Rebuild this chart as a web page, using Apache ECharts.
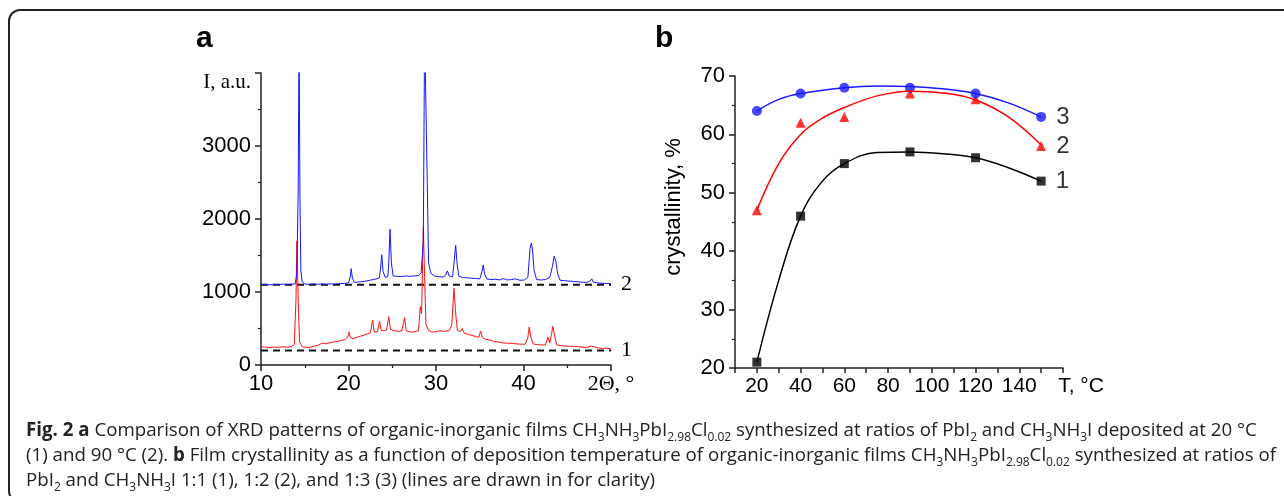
<!DOCTYPE html>
<html>
<head>
<meta charset="utf-8">
<script src="https://cdn.jsdelivr.net/npm/echarts@6/dist/echarts.min.js"></script>
<style>
html, body { margin: 0; padding: 0; background: #fff; }
#main { width: 1284px; height: 496px; }
</style>
</head>
<body>
<div id="main"></div>
<script>
// panel a: XRD patterns, [2theta, I]
var xrd1 = [ // 20 °C, red
	[10, 250], [10.5, 245], [11, 238], [11.5, 246], [12, 240], [12.5, 250], [13, 244], [13.5, 255], [13.8, 280],
	[14.0, 900], [14.1, 1700], [14.25, 900], [14.4, 320], [14.7, 250], [15, 245], [15.5, 240], [16, 255],
	[16.5, 270], [17, 300], [17.5, 290], [18, 310], [18.5, 320], [19, 330], [19.5, 345], [19.9, 380],
	[20.05, 450], [20.2, 380], [20.5, 360], [21, 380], [21.5, 400], [22, 420], [22.5, 440], [22.75, 615],
	[22.95, 450], [23.3, 460], [23.55, 600], [23.75, 470], [24.1, 470], [24.35, 480], [24.6, 660], [24.8, 490],
	[25.2, 470], [25.7, 460], [26.1, 470], [26.4, 650], [26.6, 470], [27, 450], [27.5, 455], [28, 470],
	[28.2, 800], [28.35, 700], [28.55, 1890], [28.7, 1200], [28.85, 560], [29.1, 480], [29.5, 450], [30, 455],
	[30.5, 470], [31, 460], [31.5, 470], [31.8, 550], [32.05, 1050], [32.25, 700], [32.45, 470], [32.8, 460],
	[33, 500], [33.2, 440], [33.6, 420], [34, 410], [34.5, 390], [34.9, 380], [35.1, 465], [35.3, 380],
	[35.7, 350], [36.2, 340], [36.7, 320], [37.2, 315], [37.7, 300], [38.2, 300], [38.7, 295], [39.2, 290],
	[39.7, 285], [40.2, 285], [40.5, 380], [40.65, 520], [40.85, 380], [41.1, 290], [41.5, 280], [42, 275],
	[42.5, 275], [42.8, 380], [43.0, 300], [43.2, 420], [43.35, 530], [43.55, 400], [43.8, 275], [44.3, 265],
	[44.8, 260], [45.3, 255], [45.8, 255], [46.3, 250], [46.8, 245], [47.3, 240], [47.7, 260], [47.9, 240],
	[48.5, 235], [49, 225], [49.5, 230], [50, 220]
];
var xrd2 = [ // 90 °C, blue
	[10, 1100], [10.5, 1105], [11, 1098], [11.5, 1104], [12, 1100], [12.5, 1108], [13, 1102], [13.5, 1106],
	[13.9, 1110], [14.1, 1250], [14.25, 2400], [14.35, 4600], [14.45, 2300], [14.55, 1300], [14.7, 1140],
	[15, 1110], [15.5, 1104], [16, 1112], [16.5, 1106], [17, 1110], [17.5, 1104], [18, 1112], [18.5, 1108],
	[19, 1114], [19.5, 1118], [20, 1125], [20.2, 1200], [20.3, 1320], [20.45, 1190], [20.7, 1130], [21, 1135],
	[21.5, 1142], [22, 1150], [22.5, 1162], [23, 1175], [23.5, 1190], [23.65, 1300], [23.8, 1510], [23.95, 1280],
	[24.2, 1200], [24.5, 1210], [24.6, 1400], [24.75, 1860], [24.9, 1400], [25.1, 1220], [25.5, 1215], [26, 1210],
	[26.5, 1220], [27, 1215], [27.5, 1220], [28, 1225], [28.3, 1260], [28.55, 1700], [28.7, 4600], [28.85, 4600],
	[29.0, 2500], [29.15, 1400], [29.4, 1260], [29.8, 1220], [30.3, 1210], [30.8, 1205], [31.1, 1230], [31.3, 1290],
	[31.5, 1220], [31.9, 1210], [32.1, 1450], [32.25, 1640], [32.4, 1400], [32.6, 1220], [33, 1200], [33.5, 1195],
	[34, 1190], [34.5, 1185], [35, 1180], [35.25, 1280], [35.4, 1370], [35.55, 1250], [35.8, 1180], [36.3, 1170],
	[36.8, 1175], [37.3, 1165], [37.7, 1185], [38.1, 1165], [38.6, 1170], [39.1, 1180], [39.6, 1160], [40.1, 1165],
	[40.5, 1200], [40.75, 1600], [40.9, 1670], [41.05, 1550], [41.2, 1300], [41.5, 1170], [42, 1165], [42.5, 1170],
	[43, 1200], [43.3, 1350], [43.5, 1490], [43.7, 1420], [43.9, 1250], [44.2, 1160], [44.7, 1155], [45.2, 1150],
	[45.7, 1145], [46.2, 1140], [46.7, 1135], [47.2, 1130], [47.6, 1150], [47.8, 1180], [48, 1135], [48.5, 1125],
	[49, 1120], [49.5, 1115], [50, 1115]
];
var baseLevels = [200, 1100]; // dashed baselines for 1 and 2
var xrdNames = ['1', '2'];

// panel b: crystallinity vs deposition temperature
var temps = [20, 40, 60, 90, 120, 150];
var cryst1 = [21, 46, 55, 57, 56, 52];
var cryst2 = [47, 62, 63, 67, 66, 58];
var cryst3 = [64, 67, 68, 68, 67, 63];
// fitted lines
var fit1 = [[20, 21], [30, 35], [40, 46], [50, 52], [60, 55], [75, 56.9], [90, 57], [105, 56.7], [120, 56], [135, 54.3], [150, 52]];
var fit2 = [[20, 47], [30, 55], [40, 60], [50, 62.8], [60, 64.6], [75, 66.6], [90, 67.4], [105, 67.1], [120, 65.9], [135, 63], [150, 58.2]];
var fit3 = [[20, 64], [30, 66], [40, 67], [60, 68], [75, 68.3], [90, 68.2], [105, 67.8], [120, 67], [135, 65.4], [150, 63]];

var caption = [
	'{b|Fig. 2 a} Comparison of XRD patterns of organic-inorganic films CH{s|3}NH{s|3}PbI{s|2.98}Cl{s|0.02} synthesized at ratios of PbI{s|2} and CH{s|3}NH{s|3}I deposited at 20 °C',
	'(1) and 90 °C (2). {b|b} Film crystallinity as a function of deposition temperature of organic-inorganic films CH{s|3}NH{s|3}PbI{s|2.98}Cl{s|0.02} synthesized at ratios of',
	'PbI{s|2} and CH{s|3}NH{s|3}I 1:1 (1), 1:2 (2), and 1:3 (3) (lines are drawn in for clarity)'
];

var SANS = 'Liberation Sans, Arial, sans-serif';
var SERIF = 'Liberation Serif, Times New Roman, serif';

function pairs(xs, ys) { //把两个数组拼成点
	var out = [];
	for (var i = 0; i < xs.length; i++) {
		out.push([xs[i], ys[i]]);
	}
	return out;
}

function lastLabel(pts, text, font, size) { //只在最后一个点显示编号
	var d = [];
	for (var i = 0; i < pts.length; i++) {
		if (i == pts.length - 1) {
			d.push({
				value: pts[i],
				label: { show: true, position: 'right', distance: 10, formatter: text, color: '#000', fontFamily: font, fontSize: size }
			});
		} else {
			d.push(pts[i]);
		}
	}
	return d;
}

var myChart = echarts.init(document.getElementById('main'), null, { renderer: 'canvas' });

var axisCommon = {
	axisLine: { lineStyle: { color: '#222', width: 1.5 } },
	axisTick: { show: true, inside: false, length: 6, lineStyle: { color: '#222', width: 1.5 } },
	minorTick: { show: true, splitNumber: 2, length: 3, lineStyle: { color: '#222', width: 1.2 } },
	splitLine: { show: false }
};

var captionGraphics = [];
for (var i = 0; i < caption.length; i++) {
	captionGraphics.push({
		type: 'text',
		left: 26,
		top: 418 + i * 25,
		style: {
			text: caption[i],
			fill: '#222',
			font: '18.7px "Open Sans", sans-serif',
			lineHeight: 26,
			rich: {
				b: { fontWeight: 'bold', fontSize: 18.7, fontFamily: 'Open Sans', lineHeight: 26 },
				s: { fontSize: 12, fontFamily: 'Open Sans', verticalAlign: 'bottom', lineHeight: 12 }
			}
		}
	});
}

var option = {
	animation: false,
	backgroundColor: '#fff',
	grid: [
		{ left: 261, top: 73, width: 350, height: 292 },
		{ left: 735, top: 76, width: 328, height: 292 }
	],
	xAxis: [
		echarts.util.merge({
			gridIndex: 0, type: 'value', min: 10, max: 50, interval: 10,
			axisLabel: {
				margin: 8, color: '#000', fontFamily: SANS, fontSize: 22,
				formatter: function (v) { return v == 50 ? '{n|2Θ, °}' : v; },
				rich: { n: { fontFamily: SERIF, fontSize: 22, color: '#000' } }
			}
		}, axisCommon, true),
		echarts.util.merge({
			gridIndex: 1, type: 'value', min: 10, max: 160, interval: 10,
			axisLabel: {
				margin: 8, color: '#000', fontFamily: SANS, fontSize: 21,
				formatter: function (v) {
					if (v == 160) return '{n|T, °C}';
					return (v % 20 == 0 && v >= 20 && v <= 140) ? v : '';
				},
				rich: { n: { fontFamily: SANS, fontSize: 21, color: '#000', padding: [0, 0, 0, 36] } }
			},
			axisTick: { length: 5 },
			minorTick: { show: false }
		}, axisCommon, false)
	],
	yAxis: [
		echarts.util.merge({
			gridIndex: 0, type: 'value', min: 0, max: 4000, interval: 1000,
			axisLabel: {
				margin: 10, color: '#000', fontFamily: SANS, fontSize: 22,
				formatter: function (v) { return v == 4000 ? '{n|I, a.u.}' : v; },
				rich: { n: { fontFamily: SERIF, fontSize: 21, color: '#000', padding: [18, 0, 0, 0] } }
			}
		}, axisCommon, true),
		echarts.util.merge({
			gridIndex: 1, type: 'value', min: 20, max: 70, interval: 10,
			axisLabel: { margin: 10, color: '#000', fontFamily: SANS, fontSize: 22 }
		}, axisCommon, true)
	],
	graphic: [
		{
			type: 'rect', silent: true,
			shape: { x: 9, y: 10, width: 1300, height: 492, r: 11 },
			style: { fill: 'none', stroke: '#222', lineWidth: 2 }
		},
		{ type: 'text', left: 196, top: 24, style: { text: 'a', fill: '#000', font: 'bold 30px ' + SANS } },
		{ type: 'text', left: 655, top: 24, style: { text: 'b', fill: '#000', font: 'bold 30px ' + SANS } },
		{
			type: 'text', x: 674, y: 207, rotation: Math.PI / 2,
			style: { text: 'crystallinity, %', fill: '#000', font: '22px ' + SANS, align: 'center', verticalAlign: 'middle' }
		}
	].concat(captionGraphics),
	series: [
		{
			name: 'base1', type: 'line', xAxisIndex: 0, yAxisIndex: 0, showSymbol: true, symbol: 'circle', symbolSize: 0,
			data: lastLabel([[10, baseLevels[0]], [50, baseLevels[0]]], xrdNames[0], SERIF, 22),
			lineStyle: { color: '#111', width: 2, type: [7, 5] }
		},
		{
			name: 'base2', type: 'line', xAxisIndex: 0, yAxisIndex: 0, showSymbol: true, symbol: 'circle', symbolSize: 0,
			data: lastLabel([[10, baseLevels[1]], [50, baseLevels[1]]], xrdNames[1], SERIF, 22),
			lineStyle: { color: '#111', width: 2, type: [7, 5] }
		},
		{
			name: 'xrd1', type: 'line', xAxisIndex: 0, yAxisIndex: 0, showSymbol: false, symbol: 'none',
			data: xrd1, lineStyle: { color: '#ff1010', width: 1 }, clip: true
		},
		{
			name: 'xrd2', type: 'line', xAxisIndex: 0, yAxisIndex: 0, showSymbol: false, symbol: 'none',
			data: xrd2, lineStyle: { color: '#1515ff', width: 1 }, clip: true
		},
		{
			name: 'fit1', type: 'line', xAxisIndex: 1, yAxisIndex: 1, smooth: 0.4, showSymbol: false, symbol: 'none',
			data: fit1, lineStyle: { color: '#000', width: 1.5 }
		},
		{
			name: 'fit2', type: 'line', xAxisIndex: 1, yAxisIndex: 1, smooth: 0.4, showSymbol: false, symbol: 'none',
			data: fit2, lineStyle: { color: '#ff0000', width: 1.5 }
		},
		{
			name: 'fit3', type: 'line', xAxisIndex: 1, yAxisIndex: 1, smooth: 0.4, showSymbol: false, symbol: 'none',
			data: fit3, lineStyle: { color: '#1a1aff', width: 1.5 }
		},
		{
			name: '1', type: 'scatter', xAxisIndex: 1, yAxisIndex: 1, symbol: 'rect', symbolSize: 9,
			itemStyle: { color: '#000' }, data: lastLabel(pairs(temps, cryst1), '1', SANS, 24)
		},
		{
			name: '2', type: 'scatter', xAxisIndex: 1, yAxisIndex: 1, symbol: 'triangle', symbolSize: 10,
			itemStyle: { color: '#ff0000' }, data: lastLabel(pairs(temps, cryst2), '2', SANS, 24)
		},
		{
			name: '3', type: 'scatter', xAxisIndex: 1, yAxisIndex: 1, symbol: 'circle', symbolSize: 10,
			itemStyle: { color: '#1a1aff' }, data: lastLabel(pairs(temps, cryst3), '3', SANS, 24)
		}
	]
};

myChart.setOption(option);
</script>
</body>
</html>
